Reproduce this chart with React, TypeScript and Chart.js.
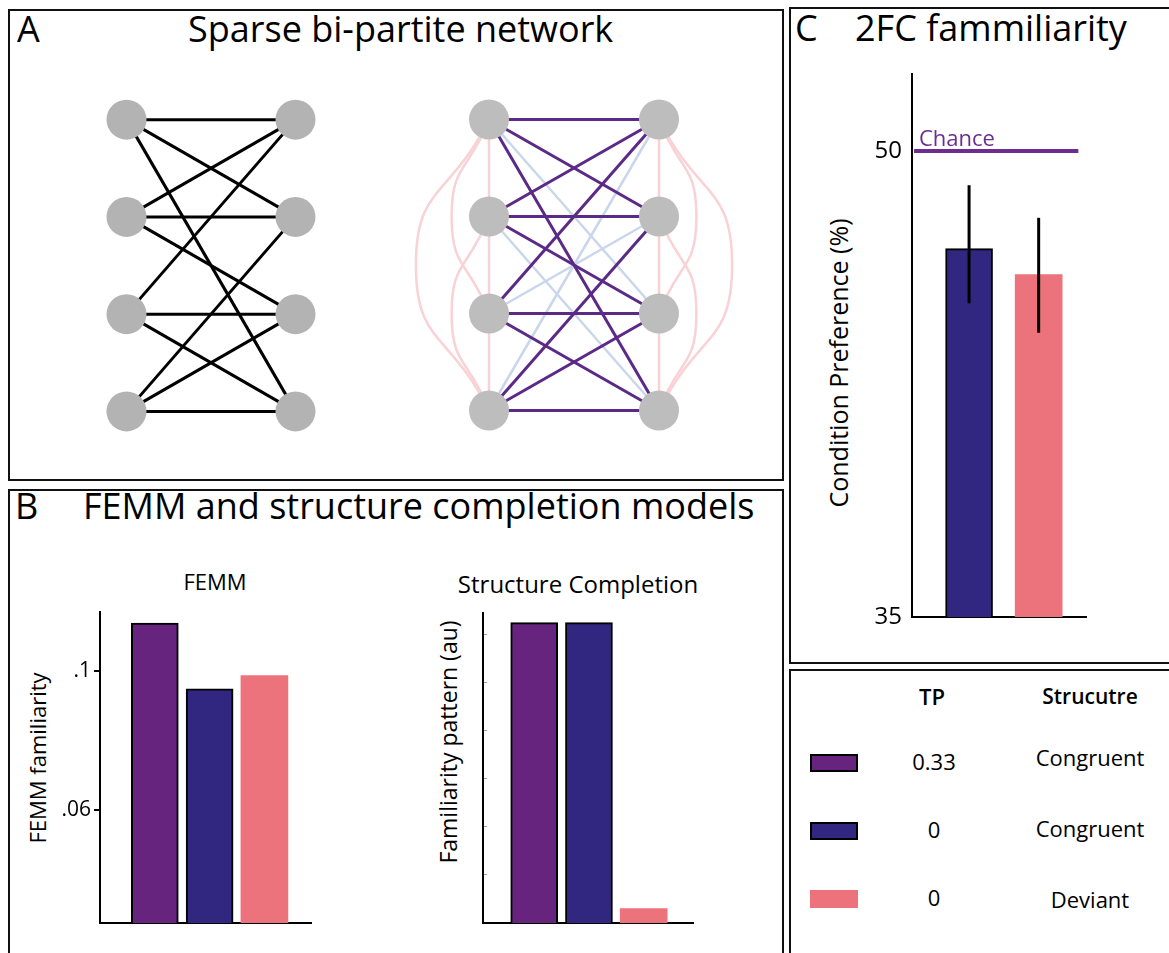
import React, { useEffect, useRef } from "react";
import { Chart, registerables } from "chart.js";

Chart.register(...registerables);

const FONT = "'Open Sans', 'Noto Sans', sans-serif";
Chart.defaults.font.family = FONT;

// ---------------- Data ----------------
// Panel A: bi-partite network (rows top->bottom, side 0 = left column, side 1 = right column)
const netRows = [0, 1, 2, 3];
const netSides = [0, 1];
// edges present in the sparse graph: [leftRow, rightRow]
const sparseEdges: [number, number][] = [
  [0, 0], [0, 1], [0, 3],
  [1, 0], [1, 1], [1, 2],
  [2, 0], [2, 2], [2, 3],
  [3, 1], [3, 2], [3, 3],
];
// cross edges absent in the sparse graph (completed structure)
const unseenEdges: [number, number][] = [[0, 2], [1, 3], [2, 1], [3, 0]];
// within-side links: [rowA, rowB]
const withinSideLinks: [number, number][] = [[0, 1], [1, 2], [2, 3], [0, 2], [1, 3], [0, 3]];

// Panel B
const conditionLabels = ["TP 0.33 Congruent", "TP 0 Congruent", "TP 0 Deviant"];
const femmValues = [0.1139, 0.095, 0.0988];
const femmTicks = [0.06, 0.1];
const femmTickLabels = [".06", ".1"];
const femmMin = 0.0276;
const femmMax = 0.1171;

const scValues = [6.25, 6.25, 0.3];
const scTicks = [1, 2, 3, 4, 5, 6];
const scMax = 6.45;

// Panel C
const prefLabels = ["TP 0 Congruent", "TP 0 Deviant"];
const prefValues = [46.86, 46.02];
const prefErrLow = [45.1, 44.15];
const prefErrHigh = [48.9, 47.85];
const prefTicks = [35, 50];
const prefMin = 35;
const prefMax = 52.48;
const chanceLevel = 50;
const chanceSpan = [0.21, 2.57];

// Legend table
const legendTP = ["0.33", "0", "0"];
const legendStructure = ["Congruent", "Congruent", "Deviant"];

// ---------------- Styles ----------------
const PURPLE = "#66247f";
const NAVY = "#312680";
const PINK = "#ec737b";
const CHANCE = "#6b2d90";
const conditionColors = [PURPLE, NAVY, PINK];
const conditionBorderColors = ["#000", "#000", "rgba(0,0,0,0)"];
const conditionBorderWidths = [2, 2, 0];
const ARC_BULGE: Record<number, number> = { 2: 0.22, 3: 0.43 };

const baseOptions: any = {
  responsive: false,
  animation: false,
  events: [],
  plugins: {
    legend: { display: false },
    tooltip: { enabled: false },
    title: { display: false },
  },
};

function seg(points: { x: number; y: number }[], color: string, width: number, order: number, tension = 0) {
  return {
    data: points,
    showLine: true,
    borderColor: color,
    borderWidth: width,
    pointRadius: 0,
    pointHoverRadius: 0,
    tension,
    order,
    fill: false,
  };
}

function makeNetwork(kind: "sparse" | "full") {
  const datasets: any[] = [];
  const nodes: { x: number; y: number }[] = [];
  netSides.forEach((s) => netRows.forEach((r) => nodes.push({ x: s, y: r })));
  datasets.push({
    data: nodes,
    pointRadius: 20,
    pointHoverRadius: 20,
    pointBackgroundColor: kind === "sparse" ? "#b3b3b3" : "#bdbdbd",
    pointBorderColor: "rgba(0,0,0,0)",
    pointBorderWidth: 0,
    showLine: false,
    order: 0,
  });
  const edgeColor = kind === "sparse" ? "#000000" : "#5b2a86";
  sparseEdges.forEach(([l, r]) =>
    datasets.push(seg([{ x: 0, y: l }, { x: 1, y: r }], edgeColor, 3, 1))
  );
  if (kind === "full") {
    unseenEdges.forEach(([l, r]) =>
      datasets.push(seg([{ x: 0, y: l }, { x: 1, y: r }], "#c9d6eb", 2.5, 2))
    );
    netSides.forEach((side) => {
      const dir = side === 0 ? -1 : 1;
      withinSideLinks.forEach(([a, b]) => {
        const span = b - a;
        const pts =
          span === 1
            ? [{ x: side, y: a }, { x: side, y: b }]
            : [
                { x: side, y: a },
                { x: side + dir * ARC_BULGE[span], y: (a + b) / 2 },
                { x: side, y: b },
              ];
        datasets.push(seg(pts, "#f9d2d6", 2.5, 3, 0.55));
      });
    });
  }
  return {
    type: "scatter",
    data: { datasets },
    options: {
      ...baseOptions,
      layout: { padding: 0, autoPadding: false },
      scales: {
        x: { type: "linear", min: -0.5, max: 1.5, display: false },
        y: { type: "linear", min: -0.5, max: 3.5, reverse: true, display: false },
      },
    },
  };
}

function hiddenX(min: number, max: number) {
  return {
    type: "linear",
    min,
    max,
    offset: false,
    ticks: { display: false },
    grid: { display: false, drawTicks: false },
    border: { display: true, color: "#000", width: 2 },
    afterFit: (s: any) => {
      s.height = 0;
      s.paddingLeft = 0;
      s.paddingRight = 0;
      s.paddingTop = 0;
      s.paddingBottom = 0;
    },
  };
}

function fixWidth(w: number) {
  return (s: any) => {
    s.width = w;
    s.paddingLeft = 0;
    s.paddingRight = 0;
    s.paddingTop = 0;
    s.paddingBottom = 0;
  };
}

function makeFemm() {
  return {
    type: "bar",
    data: {
      labels: conditionLabels,
      datasets: [
        {
          data: femmValues.map((v, i) => ({ x: i + 1, y: v })),
          backgroundColor: conditionColors,
          borderColor: conditionBorderColors,
          borderWidth: conditionBorderWidths,
          borderSkipped: "start",
          barThickness: 47,
        },
      ],
    },
    options: {
      ...baseOptions,
      layout: { padding: { left: 0, top: 12, right: 19, bottom: 7 }, autoPadding: false },
      scales: {
        x: hiddenX(0, 3.85),
        y: {
          type: "linear",
          min: femmMin,
          max: femmMax,
          afterBuildTicks: (s: any) => {
            s.ticks = femmTicks.map((v) => ({ value: v }));
          },
          ticks: {
            autoSkip: false,
            callback: (_v: any, i: number) => femmTickLabels[i],
            font: { family: FONT, size: 21 },
            color: "#000",
            padding: 3,
          },
          grid: { display: true, drawOnChartArea: false, drawTicks: true, tickLength: 6, color: "#000", lineWidth: 2 },
          border: { display: true, color: "#000", width: 2 },
          afterFit: fixWidth(100),
        },
      },
    },
  };
}

function makeSC() {
  return {
    type: "bar",
    data: {
      labels: conditionLabels,
      datasets: [
        {
          data: scValues.map((v, i) => ({ x: i + 1, y: v })),
          backgroundColor: conditionColors,
          borderColor: conditionBorderColors,
          borderWidth: conditionBorderWidths,
          borderSkipped: "start",
          barThickness: 47,
        },
      ],
    },
    options: {
      ...baseOptions,
      layout: { padding: { left: 0, top: 13, right: 17, bottom: 7 }, autoPadding: false },
      scales: {
        x: hiddenX(0.065, 3.9),
        y: {
          type: "linear",
          min: 0,
          max: scMax,
          afterBuildTicks: (s: any) => {
            s.ticks = scTicks.map((v) => ({ value: v }));
          },
          ticks: { display: false },
          grid: { display: true, drawOnChartArea: false, drawTicks: true, tickLength: -4, color: "#a0a0a0", lineWidth: 1 },
          border: { display: true, color: "#000", width: 2 },
          afterFit: fixWidth(83),
        },
      },
    },
  };
}

function makePref() {
  const datasets: any[] = [
    {
      type: "bar",
      data: prefValues.map((v, i) => ({ x: i + 1, y: v })),
      backgroundColor: [NAVY, PINK],
      borderColor: ["#000", "rgba(0,0,0,0)"],
      borderWidth: [2, 0],
      borderSkipped: "start",
      barThickness: 47,
      order: 3,
    },
    {
      type: "line",
      data: chanceSpan.map((x) => ({ x, y: chanceLevel })),
      borderColor: CHANCE,
      borderWidth: 4,
      pointRadius: 0,
      pointHoverRadius: 0,
      fill: false,
      order: 1,
    },
    ...prefValues.map((_, i) => ({
      type: "line",
      data: [
        { x: i + 1, y: prefErrLow[i] },
        { x: i + 1, y: prefErrHigh[i] },
      ],
      borderColor: "#000",
      borderWidth: 3,
      pointRadius: 0,
      pointHoverRadius: 0,
      fill: false,
      order: 0,
    })),
  ];
  return {
    type: "bar",
    data: { labels: prefLabels, datasets },
    options: {
      ...baseOptions,
      layout: { padding: { left: 0, top: 14, right: 14, bottom: 13 }, autoPadding: false },
      scales: {
        x: hiddenX(0.18, 2.68),
        y: {
          type: "linear",
          min: prefMin,
          max: prefMax,
          afterBuildTicks: (s: any) => {
            s.ticks = prefTicks.map((v) => ({ value: v }));
          },
          ticks: {
            autoSkip: false,
            callback: (v: any) => String(v),
            font: { family: FONT, size: 24 },
            color: "#000",
            padding: 10,
          },
          grid: { display: false, drawTicks: false },
          border: { display: true, color: "#000", width: 2 },
          afterFit: fixWidth(112),
        },
      },
    },
  };
}

// ---------------- Components ----------------
function ChartCanvas(props: { left: number; top: number; width: number; height: number; make: () => any }) {
  const ref = useRef<HTMLCanvasElement>(null);
  useEffect(() => {
    const chart = new Chart(ref.current as HTMLCanvasElement, props.make());
    return () => chart.destroy();
  }, []);
  return (
    <canvas
      ref={ref}
      width={props.width}
      height={props.height}
      style={{ position: "absolute", left: props.left, top: props.top, width: props.width, height: props.height }}
    />
  );
}

function Txt(props: {
  x: number;
  y: number;
  size: number;
  children: React.ReactNode;
  center?: boolean;
  weight?: number;
  color?: string;
}) {
  const { x, y, size, center, weight, color } = props;
  return (
    <div
      style={{
        position: "absolute",
        left: x,
        top: y - 0.888 * size,
        fontSize: size,
        lineHeight: `${size}px`,
        fontFamily: FONT,
        fontWeight: weight ?? 400,
        color: color ?? "#000",
        whiteSpace: "nowrap",
        transform: center ? "translateX(-50%)" : undefined,
      }}
    >
      {props.children}
    </div>
  );
}

function VTxt(props: { cx: number; cy: number; size: number; children: React.ReactNode }) {
  return (
    <div
      style={{
        position: "absolute",
        left: props.cx,
        top: props.cy,
        fontSize: props.size,
        lineHeight: `${props.size}px`,
        fontFamily: FONT,
        color: "#000",
        whiteSpace: "nowrap",
        transform: "translate(-50%, -50%) rotate(-90deg)",
      }}
    >
      {props.children}
    </div>
  );
}

function Box(props: { left: number; top: number; width: number; height: number }) {
  return (
    <div
      style={{
        position: "absolute",
        left: props.left,
        top: props.top,
        width: props.width,
        height: props.height,
        border: "2px solid #111",
        boxSizing: "border-box",
      }}
    />
  );
}

const legendRowTop = [754, 822, 890];
const legendTPBase = [770, 838, 906];
const legendStructBase = [766, 837, 908];

export default function App() {
  return (
    <div
      style={{
        position: "absolute",
        left: 0,
        top: 0,
        width: 1169,
        height: 953,
        overflow: "hidden",
        background: "#fff",
      }}
    >
      <Box left={8} top={9} width={776} height={472} />
      <Box left={8} top={489} width={776} height={480} />
      <Box left={789} top={7} width={390} height={657} />
      <Box left={789} top={669} width={390} height={300} />

      {/* Panel A */}
      <Txt x={17} y={43} size={36}>A</Txt>
      <Txt x={188} y={43} size={36}>Sparse bi-partite network</Txt>
      <ChartCanvas left={42} top={71} width={338} height={389} make={() => makeNetwork("sparse")} />
      <ChartCanvas left={404} top={71} width={340} height={388} make={() => makeNetwork("full")} />

      {/* Panel B */}
      <Txt x={15} y={520} size={36}>B</Txt>
      <Txt x={83} y={520} size={36}>FEMM and structure completion models</Txt>
      <Txt x={215} y={590} size={22} center>FEMM</Txt>
      <Txt x={578} y={593} size={24} center>Structure Completion</Txt>
      <VTxt cx={36.5} cy={757.5} size={22}>FEMM familiarity</VTxt>
      <VTxt cx={448} cy={742} size={23}>Familiarity pattern (au)</VTxt>
      <ChartCanvas left={0} top={600} width={330} height={330} make={makeFemm} />
      <ChartCanvas left={400} top={600} width={310} height={330} make={makeSC} />

      {/* Panel C */}
      <Txt x={795} y={42} size={36}>C</Txt>
      <Txt x={855} y={42} size={36}>2FC fammiliarity</Txt>
      <VTxt cx={838} cy={363} size={25}>Condition Preference (%)</VTxt>
      <ChartCanvas left={800} top={60} width={300} height={570} make={makePref} />
      <Txt x={919} y={146} size={22} color={CHANCE}>Chance</Txt>

      {/* Legend table */}
      <Txt x={932} y={705} size={22} weight={600} center>TP</Txt>
      <Txt x={1090} y={705} size={21} weight={600} center>Strucutre</Txt>
      {legendTP.map((tp, i) => (
        <React.Fragment key={i}>
          <div
            style={{
              position: "absolute",
              left: 810,
              top: legendRowTop[i],
              width: 48,
              height: 18,
              background: conditionColors[i],
              border: conditionBorderWidths[i] ? "2px solid #000" : "none",
              boxSizing: "border-box",
            }}
          />
          <Txt x={934} y={legendTPBase[i]} size={22} center>{tp}</Txt>
          <Txt x={1090} y={legendStructBase[i]} size={22} center>{legendStructure[i]}</Txt>
        </React.Fragment>
      ))}
    </div>
  );
}
